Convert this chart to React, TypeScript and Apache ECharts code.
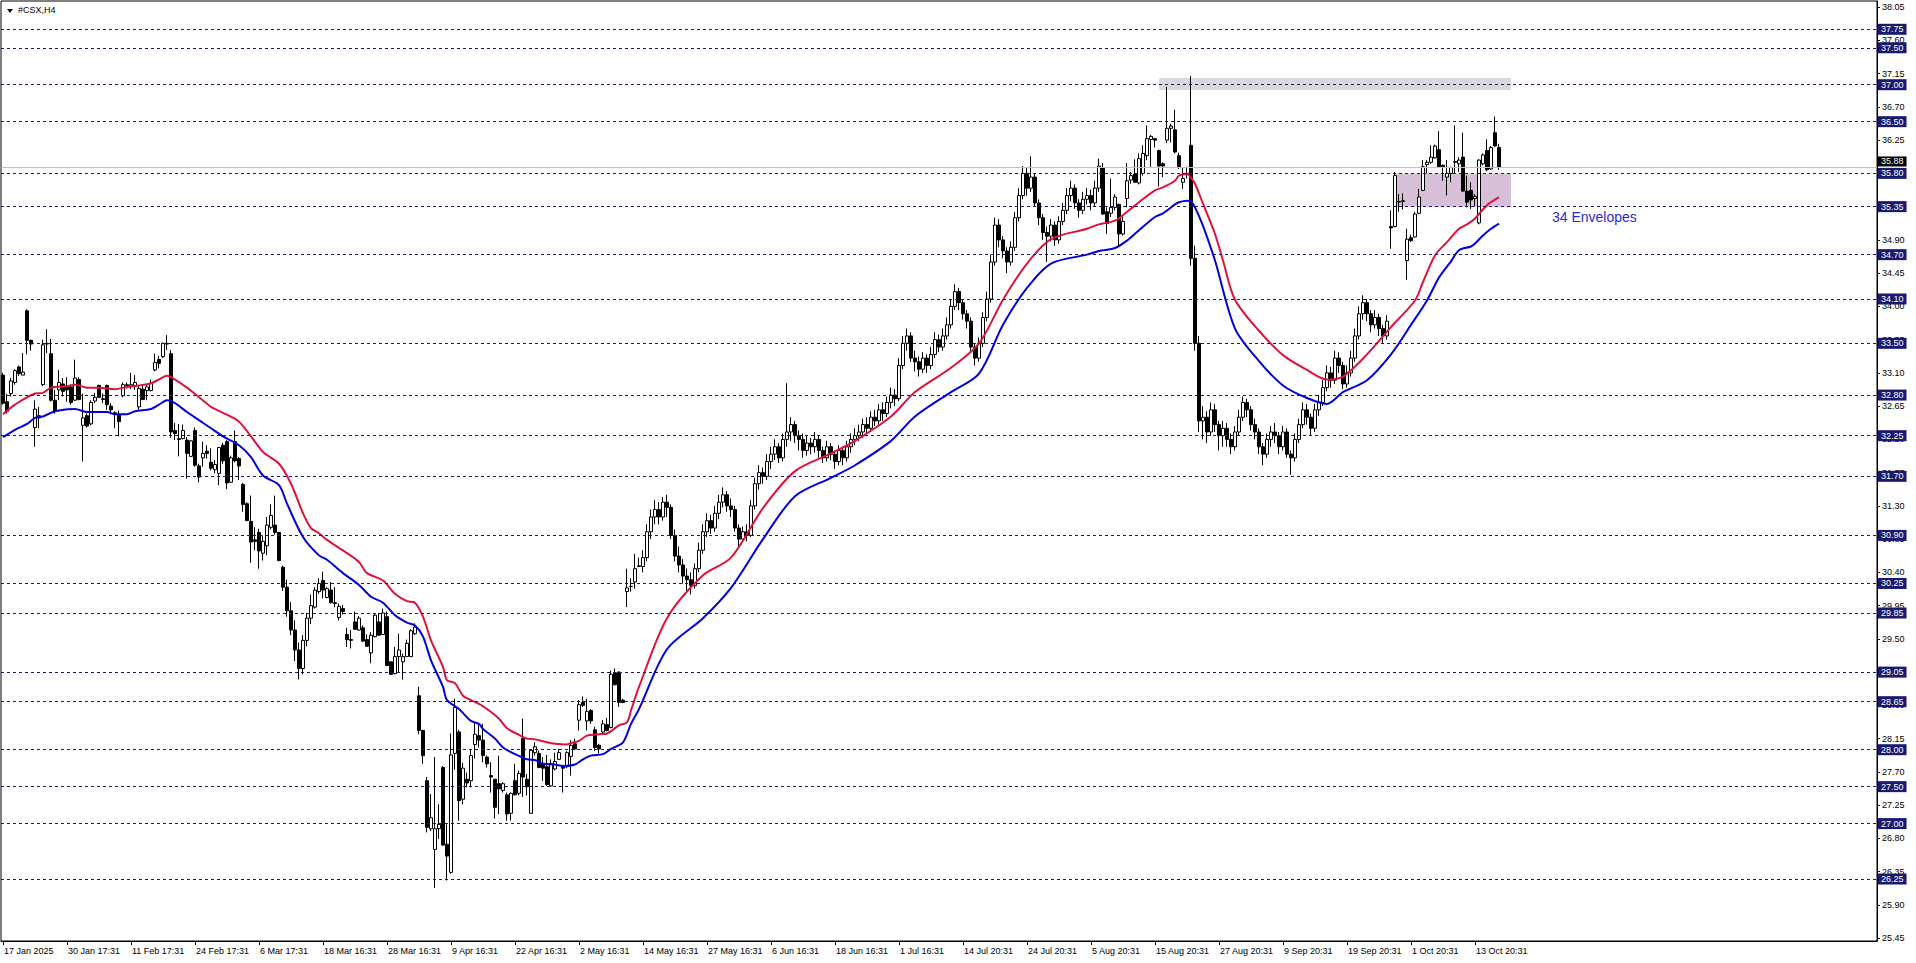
import React, { useEffect, useRef } from "react";
import * as echarts from "echarts";

// ---------- data ----------
const TOTAL_SLOTS = 469; // bar slots across the plot (4 px each)

const timeLabels = [
  "17 Jan 2025", "30 Jan 17:31", "11 Feb 17:31", "24 Feb 17:31", "6 Mar 17:31",
  "18 Mar 16:31", "28 Mar 16:31", "9 Apr 16:31", "22 Apr 16:31", "2 May 16:31",
  "14 May 16:31", "27 May 16:31", "6 Jun 16:31", "18 Jun 16:31", "1 Jul 16:31",
  "14 Jul 20:31", "24 Jul 20:31", "5 Aug 20:31", "15 Aug 20:31", "27 Aug 20:31",
  "9 Sep 20:31", "19 Sep 20:31", "1 Oct 20:31", "13 Oct 20:31",
];
const BARS_PER_LABEL = 16;

const priceTicks = [
  25.45, 25.9, 26.35, 26.8, 27.25, 27.7, 28.15, 28.6, 29.05, 29.5, 29.95, 30.4,
  30.85, 31.3, 31.75, 32.2, 32.65, 33.1, 33.55, 34.0, 34.45, 34.9, 35.35, 35.8,
  36.25, 36.7, 37.15, 37.6, 38.05,
];

const levels = [
  37.75, 37.5, 37.0, 36.5, 35.8, 35.35, 34.7, 34.1, 33.5, 32.8, 32.25, 31.7,
  30.9, 30.25, 29.85, 29.05, 28.65, 28.0, 27.5, 27.0, 26.25,
];
const lastPrice = 35.88;

// zones: [fromBar, toBar, top, bottom]
const resistanceZone = [289, 377, 37.09, 36.93];
const supportZone = [348, 377, 35.8, 35.35];

// candles: [open, close, low, high]
const candlesJanFeb = [
  [33.07, 32.69, 32.67, 33.1], [32.71, 32.58, 32.55, 32.82], [32.82, 32.99, 32.78, 33.03],
  [32.97, 33.13, 32.94, 33.15], [33.18, 33.09, 33.06, 33.2], [33.07, 33.11, 33.07, 33.37],
  [33.94, 33.54, 33.35, 33.96], [33.54, 33.49, 33.4, 33.55], [32.36, 32.61, 32.1, 32.73],
  [32.49, 32.52, 32.35, 32.64], [32.94, 33.48, 32.92, 33.55], [33.49, 33.5, 33.37, 33.69],
  [33.36, 32.73, 32.71, 33.56], [32.73, 32.58, 32.55, 32.87], [32.87, 32.97, 32.73, 33.14],
  [32.95, 32.85, 32.78, 33.03], [32.92, 32.87, 32.71, 33.04], [32.91, 32.7, 32.67, 32.94],
  [32.73, 33.03, 32.72, 33.28], [33.01, 32.74, 32.73, 33.04], [32.39, 32.49, 31.9, 32.82],
  [32.52, 32.38, 32.36, 32.55], [32.41, 32.7, 32.39, 32.73], [32.72, 32.77, 32.69, 32.83],
  [32.93, 32.77, 32.76, 32.94], [32.75, 32.74, 32.69, 32.82], [32.93, 32.67, 32.6, 32.94],
  [32.65, 32.6, 32.54, 32.69], [32.56, 32.54, 32.35, 32.58], [32.54, 32.44, 32.24, 32.59],
  [32.79, 32.94, 32.77, 32.97], [32.93, 32.94, 32.89, 32.97], [32.92, 32.94, 32.88, 33.1],
  [32.92, 32.97, 32.87, 33.07], [32.64, 32.89, 32.6, 32.92], [32.88, 32.74, 32.73, 32.92],
  [32.86, 32.91, 32.73, 32.94], [32.86, 32.96, 32.85, 33.01], [33.14, 33.24, 33.12, 33.36],
  [33.28, 33.23, 33.16, 33.33],
];
const candlesFebMar = [
  [33.32, 33.5, 33.3, 33.51], [33.49, 33.5, 33.41, 33.61], [33.36, 32.3, 32.22, 33.41],
  [32.32, 32.28, 32.19, 32.42], [32.21, 32.2, 31.97, 32.41], [32.21, 32.32, 32.2, 32.4],
  [32.19, 32.01, 31.67, 32.23], [31.97, 32.18, 31.96, 32.19], [32.32, 31.85, 31.83, 32.36],
  [31.84, 31.69, 31.62, 31.87], [31.95, 32.01, 31.83, 32.17], [32.04, 32.01, 31.94, 32.12],
  [31.89, 31.81, 31.78, 32.08], [31.79, 31.86, 31.74, 31.92], [31.74, 32.09, 31.58, 32.1],
  [32.12, 31.91, 31.87, 32.15], [32.17, 31.61, 31.53, 32.19], [31.62, 31.95, 31.61, 31.98],
  [32.17, 31.91, 31.89, 32.32], [31.94, 31.84, 31.65, 31.96], [31.59, 31.32, 31.22, 31.61],
  [31.33, 31.1, 31.1, 31.35], [31.09, 30.81, 30.53, 31.44], [30.84, 30.82, 30.7, 31.01],
  [30.94, 30.69, 30.45, 30.99], [30.66, 30.82, 30.56, 30.9], [30.76, 31.04, 30.63, 31.15],
  [31.01, 31.17, 30.98, 31.32], [31.04, 30.94, 30.91, 31.44], [30.94, 30.56, 30.55, 30.95],
  [30.47, 30.2, 30.15, 30.49], [30.2, 29.88, 29.8, 30.3], [29.88, 29.62, 29.55, 30.0],
  [29.62, 29.35, 29.2, 29.75], [29.35, 29.1, 28.95, 29.45], [29.1, 29.48, 29.02, 29.55],
  [29.48, 29.78, 29.4, 29.85], [29.78, 29.95, 29.7, 30.1],
];
const candlesMarApr = [
  [29.93, 30.16, 29.91, 30.2], [30.14, 30.25, 30.11, 30.32], [30.29, 30.16, 30.05, 30.41],
  [30.06, 30.18, 30.05, 30.2], [30.16, 29.99, 29.98, 30.27], [29.99, 29.98, 29.93, 30.2],
  [29.79, 29.94, 29.75, 29.98], [29.91, 29.87, 29.83, 29.96], [29.56, 29.49, 29.39, 29.65],
  [29.49, 29.48, 29.37, 29.62], [29.73, 29.63, 29.62, 29.87], [29.62, 29.78, 29.61, 29.81],
  [29.65, 29.47, 29.46, 29.68], [29.49, 29.4, 29.39, 29.56], [29.31, 29.55, 29.17, 29.59],
  [29.53, 29.82, 29.52, 29.84], [29.73, 29.55, 29.54, 29.85], [29.56, 29.85, 29.55, 29.91],
  [29.8, 29.14, 29.13, 29.87], [29.19, 29.02, 29.01, 29.19], [29.03, 29.26, 29.02, 29.39],
  [29.26, 29.35, 29.05, 29.57], [29.19, 29.26, 28.95, 29.3], [29.26, 29.44, 29.26, 29.49],
  [29.26, 29.61, 29.26, 29.63], [29.57, 29.66, 29.55, 29.71], [28.73, 28.26, 28.21, 28.85],
  [28.26, 27.92, 27.81, 28.27], [27.58, 26.95, 26.88, 27.63], [26.93, 27.08, 26.9, 27.4],
  [26.65, 26.93, 26.13, 27.9], [26.93, 26.99, 26.79, 27.26], [27.76, 26.71, 26.7, 27.78],
  [26.72, 26.56, 26.23, 26.99], [26.34, 27.93, 26.32, 28.22], [27.95, 28.57, 27.73, 28.69],
  [28.24, 27.31, 27.04, 28.27], [27.33, 27.75, 27.26, 27.82], [27.6, 27.55, 27.49, 27.69],
  [27.58, 27.92, 27.49, 28.0], [28.07, 28.21, 27.88, 28.36], [28.19, 28.13, 28.03, 28.35],
];
const candlesAprMay = [
  [28.13, 27.92, 27.83, 28.35], [27.9, 27.81, 27.76, 27.92], [27.65, 27.63, 27.42, 27.83],
  [27.6, 27.22, 27.07, 27.6], [27.54, 27.47, 27.13, 27.92], [27.45, 27.54, 27.42, 27.56],
  [27.39, 27.13, 27.04, 27.42], [27.14, 27.41, 27.04, 27.42], [27.58, 27.39, 27.38, 27.81],
  [27.41, 27.68, 27.38, 27.72], [28.15, 27.63, 27.36, 28.42], [27.6, 27.5, 27.38, 27.67],
  [27.14, 27.99, 27.13, 28.0], [27.96, 28.04, 27.92, 28.1], [27.95, 27.76, 27.75, 27.99],
  [27.8, 27.75, 27.58, 27.9], [27.77, 27.53, 27.51, 27.93], [27.51, 27.81, 27.5, 27.87],
  [27.74, 27.84, 27.72, 27.96], [27.87, 27.96, 27.86, 28.01], [27.77, 27.75, 27.42, 27.78],
  [27.77, 27.96, 27.75, 27.98], [27.91, 28.06, 27.65, 28.13], [28.08, 28.01, 28.0, 28.15],
  [28.4, 28.61, 28.26, 28.67], [28.64, 28.6, 28.58, 28.72], [28.39, 28.52, 28.26, 28.69],
  [28.53, 28.39, 28.35, 28.55], [28.27, 28.03, 27.98, 28.31], [28.06, 28.01, 27.95, 28.08],
  [28.24, 28.35, 28.21, 28.4], [28.34, 28.26, 28.25, 28.43], [28.3, 29.02, 28.29, 29.07],
  [29.04, 28.88, 28.87, 29.1], [29.05, 28.64, 28.58, 29.06], [28.67, 28.64, 28.63, 28.69],
  [30.14, 30.19, 29.93, 30.45], [30.21, 30.21, 30.14, 30.32], [30.27, 30.45, 30.18, 30.65],
  [30.48, 30.49, 30.47, 30.6],
];
const candlesMayJul = [
  [30.48, 30.6, 30.4, 30.7], [30.6, 30.95, 30.55, 31.05], [30.95, 31.15, 30.85, 31.25],
  [31.15, 31.25, 31.05, 31.38], [31.25, 31.15, 31.05, 31.35], [31.15, 31.35, 31.1, 31.42],
  [31.35, 31.28, 31.15, 31.45], [31.28, 30.9, 30.85, 31.32], [30.9, 30.62, 30.55, 30.98],
  [30.62, 30.5, 30.4, 30.75], [30.5, 30.35, 30.25, 30.58], [30.35, 30.3, 30.15, 30.45],
  [30.3, 30.22, 30.1, 30.4], [30.22, 30.45, 30.18, 30.52], [30.45, 30.7, 30.4, 30.8],
  [30.7, 30.95, 30.65, 31.05], [30.95, 31.1, 30.88, 31.2], [31.1, 31.0, 30.92, 31.18],
  [31.0, 31.2, 30.95, 31.3], [31.2, 31.35, 31.12, 31.45], [31.35, 31.45, 31.28, 31.55],
  [31.45, 31.3, 31.22, 31.5], [31.3, 31.25, 31.15, 31.4], [31.25, 31.0, 30.95, 31.3],
  [31.0, 30.85, 30.75, 31.05], [30.85, 30.95, 30.8, 31.02], [30.95, 30.9, 30.82, 31.05],
  [30.9, 31.3, 30.88, 31.38], [31.3, 31.6, 31.25, 31.68], [31.6, 31.75, 31.52, 31.85],
  [31.75, 31.7, 31.6, 31.82], [31.7, 31.9, 31.65, 32.0], [31.9, 32.0, 31.8, 32.1],
  [32.0, 32.1, 31.92, 32.2], [32.1, 31.95, 31.88, 32.15], [31.95, 32.2, 31.9, 32.28],
  [32.2, 32.3, 32.1, 32.96], [32.3, 32.4, 32.18, 32.5], [32.4, 32.25, 32.15, 32.45],
  [32.25, 32.2, 32.05, 32.32], [32.2, 32.05, 31.95, 32.28], [32.05, 32.15, 31.98, 32.25],
  [32.15, 32.1, 32.0, 32.22], [32.1, 32.2, 32.02, 32.3], [32.2, 32.05, 31.95, 32.25],
  [32.05, 31.95, 31.88, 32.1], [31.95, 32.1, 31.9, 32.18], [32.1, 32.0, 31.92, 32.15],
  [32.0, 31.9, 31.8, 32.05], [31.9, 32.05, 31.85, 32.12], [32.05, 31.95, 31.85, 32.1],
  [31.95, 32.1, 31.9, 32.18], [32.1, 32.2, 32.02, 32.28], [32.2, 32.25, 32.12, 32.35],
  [32.25, 32.3, 32.18, 32.4], [32.3, 32.4, 32.22, 32.48], [32.4, 32.35, 32.28, 32.5],
  [32.35, 32.5, 32.3, 32.58], [32.5, 32.45, 32.38, 32.6], [32.45, 32.6, 32.4, 32.68],
  [32.6, 32.55, 32.45, 32.7], [32.55, 32.7, 32.5, 32.78], [32.7, 32.8, 32.62, 32.9],
  [32.8, 32.75, 32.65, 32.88], [32.75, 33.2, 32.72, 33.3],
];
const candlesJulAug = [
  [33.2, 33.5, 33.15, 33.6], [33.5, 33.6, 33.4, 33.7], [33.6, 33.3, 33.25, 33.65],
  [33.3, 33.25, 33.12, 33.4], [33.25, 33.15, 33.05, 33.32], [33.15, 33.3, 33.1, 33.38],
  [33.3, 33.2, 33.1, 33.35], [33.2, 33.35, 33.15, 33.45], [33.35, 33.55, 33.3, 33.65],
  [33.55, 33.45, 33.38, 33.62], [33.45, 33.6, 33.4, 33.7], [33.6, 33.75, 33.55, 33.85],
  [33.75, 34.0, 33.7, 34.1], [34.0, 34.2, 33.95, 34.3], [34.2, 34.05, 33.95, 34.25],
  [34.05, 33.9, 33.82, 34.1], [33.9, 33.8, 33.7, 33.95], [33.8, 33.45, 33.4, 33.85],
  [33.45, 33.3, 33.2, 33.5], [33.3, 33.5, 33.25, 33.58], [33.5, 33.85, 33.45, 33.92],
  [33.85, 34.1, 33.8, 34.2], [34.1, 34.6, 34.05, 34.7], [34.6, 35.1, 34.55, 35.2],
  [35.1, 34.9, 34.8, 35.18], [34.9, 34.75, 34.65, 34.95], [34.75, 34.6, 34.45, 34.8],
  [34.6, 34.8, 34.55, 34.88], [34.8, 35.2, 34.75, 35.28], [35.2, 35.5, 35.15, 35.6],
  [35.5, 35.8, 35.45, 35.9], [35.8, 35.6, 35.5, 35.88], [35.6, 35.75, 35.55, 36.03],
  [35.75, 35.4, 35.35, 35.8], [35.4, 35.2, 35.1, 35.45], [35.2, 35.0, 34.9, 35.25],
  [35.0, 34.95, 34.6, 35.08], [34.95, 35.1, 34.88, 35.18], [35.1, 34.9, 34.82, 35.15],
  [34.9, 35.15, 34.85, 35.22], [35.15, 35.3, 35.1, 35.4], [35.3, 35.5, 35.25, 35.6],
  [35.5, 35.6, 35.42, 35.7], [35.6, 35.4, 35.32, 35.65], [35.4, 35.3, 35.2, 35.45],
  [35.3, 35.45, 35.25, 35.55], [35.45, 35.5, 35.38, 35.6], [35.5, 35.4, 35.3, 35.58],
  [35.4, 35.6, 35.35, 35.7], [35.6, 35.9, 35.55, 36.0],
  [35.88, 35.25, 35.24, 35.94], [35.28, 35.12, 34.98, 35.34], [35.26, 35.34, 35.21, 35.73],
  [35.34, 35.48, 35.3, 35.52], [35.38, 34.98, 34.82, 35.39], [34.98, 35.15, 34.96, 35.21],
  [35.46, 35.7, 35.34, 35.94], [35.71, 35.77, 35.66, 35.82], [35.79, 35.68, 35.67, 35.99],
  [35.67, 36.0, 35.65, 36.07], [35.8, 36.07, 35.77, 36.18], [36.04, 36.27, 35.98, 36.45],
  [36.26, 36.3, 35.89, 36.32], [36.27, 36.25, 36.15, 36.28], [36.11, 35.9, 35.62, 36.12],
  [35.93, 35.9, 35.75, 35.95], [36.25, 36.41, 36.21, 36.97], [36.41, 36.44, 36.22, 36.47],
  [36.39, 36.09, 36.07, 36.66], [36.04, 35.89, 35.86, 36.08], [35.68, 35.73, 35.59, 35.88],
  [35.79, 35.8, 35.73, 35.89],
];
const candlesAugSep = [
  [36.18, 34.65, 34.55, 37.12], [34.65, 33.5, 33.4, 34.82], [33.5, 32.45, 32.3, 33.6],
  [32.45, 32.5, 32.2, 32.65], [32.5, 32.3, 32.15, 32.58], [32.3, 32.6, 32.25, 32.7],
  [32.6, 32.4, 32.3, 32.68], [32.4, 32.25, 32.05, 32.45], [32.25, 32.35, 32.1, 32.45],
  [32.35, 32.2, 32.1, 32.42], [32.2, 32.1, 32.0, 32.28], [32.1, 32.3, 32.05, 32.38],
  [32.3, 32.5, 32.25, 32.6], [32.5, 32.7, 32.45, 32.78], [32.7, 32.6, 32.5, 32.75],
  [32.6, 32.4, 32.32, 32.65], [32.4, 32.3, 32.2, 32.48], [32.3, 32.1, 32.0, 32.35],
  [32.1, 32.0, 31.85, 32.15], [32.0, 32.2, 31.95, 32.28], [32.2, 32.3, 32.1, 32.38],
  [32.3, 32.25, 32.15, 32.42], [32.25, 32.1, 32.0, 32.3], [32.1, 32.3, 32.05, 32.38],
  [32.3, 32.0, 31.95, 32.35], [32.0, 31.95, 31.72, 32.05], [31.95, 32.2, 31.9, 32.28],
  [32.2, 32.4, 32.15, 32.48], [32.4, 32.6, 32.35, 32.7], [32.6, 32.5, 32.4, 32.68],
  [32.5, 32.35, 32.25, 32.55], [32.35, 32.6, 32.3, 32.68], [32.6, 32.7, 32.52, 32.8],
  [32.7, 32.9, 32.65, 33.0], [32.9, 33.1, 32.85, 33.2], [33.1, 33.0, 32.9, 33.18],
  [33.0, 33.3, 32.95, 33.4], [33.3, 33.2, 33.1, 33.38], [33.2, 32.95, 32.88, 33.25],
  [32.95, 33.1, 32.9, 33.2], [33.1, 33.3, 33.05, 33.4], [33.3, 33.6, 33.25, 33.7],
  [33.6, 33.9, 33.55, 34.0], [33.9, 34.05, 33.82, 34.15], [34.05, 33.9, 33.8, 34.1],
  [33.9, 33.75, 33.65, 33.95], [33.75, 33.85, 33.7, 33.95], [33.85, 33.7, 33.6, 33.9],
  [33.7, 33.6, 33.5, 33.75], [33.6, 33.8, 33.55, 33.88],
];
const candlesSepOct = [
  [35.08, 35.06, 34.78, 35.3], [35.08, 35.77, 35.07, 35.82], [35.41, 35.42, 35.28, 35.52],
  [35.42, 35.43, 35.31, 35.53], [34.62, 34.91, 34.36, 35.05], [34.93, 34.89, 34.87, 34.97],
  [34.94, 35.25, 34.93, 35.28], [35.26, 35.48, 35.25, 35.59], [35.57, 35.89, 35.56, 35.98],
  [35.92, 35.95, 35.8, 35.98], [35.95, 36.02, 35.93, 36.18], [36.01, 36.17, 36.0, 36.19],
  [36.12, 35.89, 35.89, 36.37], [35.91, 35.89, 35.7, 35.92], [35.75, 35.8, 35.5, 35.98],
  [35.8, 35.88, 35.68, 35.89], [35.95, 35.96, 35.8, 36.45], [35.93, 35.98, 35.82, 36.02],
  [36.02, 35.56, 35.55, 36.35], [35.56, 35.41, 35.34, 35.77], [35.57, 35.44, 35.32, 35.68],
  [35.46, 35.49, 35.35, 35.52], [35.13, 35.98, 35.11, 35.99], [35.93, 36.05, 35.91, 36.07],
  [36.11, 35.85, 35.83, 36.26], [35.86, 36.15, 35.85, 36.17], [36.35, 36.17, 36.16, 36.57],
  [36.15, 35.88, 35.85, 36.2],
];

// envelope lines: [barIndex, price]
const upperEnvelope = [
  [0, 32.54], [3, 32.67], [8, 32.82], [10, 32.83], [12, 32.9], [16, 32.92], [18, 32.94],
  [21, 32.9], [24, 32.9], [28, 32.88], [31, 32.91], [34, 32.93], [37, 32.96], [39, 33.01],
  [41, 33.06], [43, 33.01], [46, 32.9], [49, 32.77], [52, 32.64], [55, 32.56], [59, 32.44],
  [62, 32.24], [65, 32.03], [69, 31.87], [72, 31.6], [75, 31.2], [77, 31.0], [79, 30.93],
  [81, 30.84], [86, 30.66], [89, 30.54], [91, 30.39], [95, 30.29], [98, 30.11], [101, 30.01],
  [103, 29.99], [105, 29.8], [107, 29.48], [110, 29.12], [111, 28.94], [113, 28.9],
  [115, 28.73], [117, 28.67], [119, 28.62], [121, 28.55], [124, 28.42], [126, 28.29],
  [129, 28.2], [131, 28.15], [133, 28.14], [136, 28.1], [138, 28.08], [141, 28.07],
  [142, 28.09], [144, 28.12], [146, 28.19], [149, 28.21], [151, 28.22], [154, 28.33],
  [156, 28.37], [157, 28.53], [159, 28.85], [166, 29.78], [175, 30.36], [182, 30.6],
  [190, 31.27], [198, 31.77], [207, 32.01], [213, 32.18], [222, 32.51], [228, 32.84],
  [237, 33.17], [244, 33.5], [250, 34.09], [256, 34.58], [262, 34.91], [271, 35.05],
  [274, 35.11], [278, 35.16], [281, 35.28], [284, 35.41], [288, 35.57], [290, 35.61],
  [293, 35.7], [294, 35.77], [296, 35.79], [297, 35.74], [298, 35.66], [300, 35.39],
  [303, 34.98], [305, 34.62], [308, 34.09], [314, 33.67], [320, 33.34], [326, 33.14],
  [331, 33.01], [335, 33.05], [341, 33.35], [347, 33.72], [353, 34.08], [355, 34.33],
  [358, 34.69], [361, 34.87], [364, 35.05], [366, 35.11], [368, 35.19], [371, 35.37],
  [374, 35.48],
];
const lowerEnvelope = [
  [0, 32.23], [3, 32.33], [6, 32.41], [8, 32.49], [10, 32.51], [12, 32.56], [14, 32.59],
  [18, 32.61], [21, 32.57], [26, 32.57], [28, 32.54], [31, 32.54], [33, 32.58], [37, 32.61],
  [39, 32.67], [41, 32.73], [43, 32.69], [46, 32.57], [49, 32.46], [52, 32.35], [55, 32.24],
  [59, 32.12], [62, 31.96], [65, 31.71], [69, 31.58], [71, 31.33], [75, 30.88], [79, 30.63],
  [81, 30.57], [85, 30.39], [89, 30.23], [92, 30.07], [95, 29.99], [98, 29.82], [101, 29.72],
  [103, 29.68], [105, 29.53], [107, 29.21], [110, 28.85], [111, 28.67], [114, 28.55],
  [117, 28.39], [119, 28.35], [120, 28.28], [123, 28.15], [125, 28.03], [128, 27.94],
  [131, 27.87], [133, 27.86], [135, 27.81], [138, 27.8], [140, 27.78], [143, 27.8],
  [145, 27.87], [147, 27.92], [150, 27.94], [152, 28.01], [155, 28.1], [157, 28.35],
  [159, 28.55], [166, 29.36], [175, 29.78], [182, 30.19], [190, 30.85], [198, 31.43],
  [207, 31.68], [213, 31.85], [222, 32.18], [228, 32.51], [237, 32.84], [244, 33.09],
  [250, 33.75], [256, 34.25], [262, 34.58], [271, 34.7], [274, 34.75], [278, 34.79],
  [281, 34.89], [284, 35.03], [288, 35.21], [290, 35.26], [293, 35.38], [294, 35.41],
  [296, 35.43], [297, 35.42], [298, 35.34], [300, 35.09], [303, 34.62], [308, 33.7],
  [314, 33.26], [320, 32.93], [326, 32.76], [331, 32.68], [335, 32.84], [341, 33.0],
  [347, 33.35], [352, 33.75], [356, 34.08], [359, 34.39], [362, 34.61], [364, 34.76],
  [367, 34.81], [368, 34.85], [370, 34.96], [372, 35.05], [374, 35.12],
];

// ---------- styles ----------
const FONT = "Liberation Sans";
const NAVY = "#191970";

export default function App() {
  const ref = useRef<HTMLDivElement>(null);

  useEffect(() => {
    if (!ref.current) return;
    const chart = echarts.init(ref.current, null, { renderer: "svg" });

    const candles = [
      ...candlesJanFeb, ...candlesFebMar, ...candlesMarApr, ...candlesAprMay,
      ...candlesMayJul, ...candlesJulAug, ...candlesAugSep, ...candlesSepOct,
    ];
    const categories = Array.from({ length: TOTAL_SLOTS }, (_, i) => String(i));
    const lastLabelBar = (timeLabels.length - 1) * BARS_PER_LABEL;
    const showTick = (i: number) => i % BARS_PER_LABEL === 0 && i <= lastLabelBar;

    const option: any = {
      animation: false,
      backgroundColor: "#ffffff",
      textStyle: { fontFamily: FONT },
      grid: {
        left: 1, right: 39, top: 1, bottom: 22,
        show: true, borderColor: "#000", borderWidth: 1, backgroundColor: "#fff",
      },
      xAxis: {
        type: "category",
        data: categories,
        boundaryGap: true,
        axisLine: { show: true, lineStyle: { color: "#000", width: 1 } },
        axisTick: {
          show: true, alignWithLabel: true, length: 4,
          interval: (i: number) => showTick(i),
          lineStyle: { color: "#000" },
        },
        axisLabel: {
          interval: (i: number) => showTick(i),
          formatter: (v: string) => timeLabels[Number(v) / BARS_PER_LABEL] || "",
          align: "left", margin: 5, padding: [0, 0, 0, 1],
          fontSize: 9, color: "#000", fontFamily: FONT,
        },
        splitLine: { show: false },
      },
      yAxis: {
        type: "value",
        position: "right",
        min: 25.411,
        max: 38.133,
        scale: true,
        splitLine: { show: false },
        axisLine: { show: true, lineStyle: { color: "#000", width: 1 } },
        axisTick: {
          show: true, length: 3, customValues: priceTicks,
          lineStyle: { color: "#000" },
        },
        axisLabel: {
          customValues: priceTicks,
          formatter: (v: number) => v.toFixed(2),
          fontSize: 9, color: "#000", fontFamily: FONT, margin: 5,
        },
      },
      graphic: [
        {
          type: "polygon", silent: true,
          shape: { points: [[7, 9], [13, 9], [10, 13]] },
          style: { fill: "#000" },
        },
        {
          type: "text", left: 18, top: 5, silent: true,
          style: { text: "#CSX,H4", fill: "#000", font: `9px "${FONT}"` },
        },
        {
          type: "text", left: 1552, top: 210, silent: true,
          style: { text: "34 Envelopes", fill: "#2a2ad6", font: `14px "${FONT}"` },
        },
      ],
      series: [
        {
          name: "zones",
          type: "line",
          data: [],
          z: 1,
          silent: true,
          markArea: {
            silent: true,
            data: [
              [
                { xAxis: String(resistanceZone[0]), yAxis: resistanceZone[2], itemStyle: { color: "#d9d9d9" } },
                { xAxis: String(resistanceZone[1]), yAxis: resistanceZone[3] },
              ],
              [
                { xAxis: String(supportZone[0]), yAxis: supportZone[2], itemStyle: { color: "#d8bfd8" } },
                { xAxis: String(supportZone[1]), yAxis: supportZone[3] },
              ],
            ],
          },
        },
        {
          name: "last",
          type: "line",
          data: [],
          z: 2,
          silent: true,
          markLine: {
            silent: true,
            symbol: ["none", "none"],
            lineStyle: { color: "#c0c0c0", type: "solid", width: 1 },
            label: {
              show: true, position: "end", distance: 1,
              offset: [0, -6],
              formatter: () => lastPrice.toFixed(2),
              color: "#fff", backgroundColor: "#000",
              fontSize: 9, fontFamily: FONT, padding: [1, 3, 0, 3],
            },
            data: [{ yAxis: lastPrice }],
          },
        },
        {
          name: "levels",
          type: "line",
          data: [],
          z: 2,
          silent: true,
          markLine: {
            silent: true,
            symbol: ["none", "none"],
            lineStyle: { color: NAVY, type: [3, 3], width: 1 },
            label: {
              show: true, position: "end", distance: 1,
              formatter: (p: any) => Number(p.value).toFixed(2),
              color: "#fff", backgroundColor: NAVY,
              fontSize: 9, fontFamily: FONT, padding: [1, 3, 1, 3],
            },
            data: levels.map((v) => ({ yAxis: v })),
          },
        },
        {
          name: "#CSX,H4",
          type: "candlestick",
          data: candles,
          barWidth: 3,
          z: 3,
          itemStyle: {
            color: "#ffffff", color0: "#000000",
            borderColor: "#000000", borderColor0: "#000000", borderWidth: 1,
          },
        },
        {
          name: "Envelope upper",
          type: "line",
          data: upperEnvelope,
          showSymbol: false,
          smooth: 0.3,
          z: 4,
          lineStyle: { color: "#dc143c", width: 2 },
        },
        {
          name: "Envelope lower",
          type: "line",
          data: lowerEnvelope,
          showSymbol: false,
          smooth: 0.3,
          z: 4,
          lineStyle: { color: "#0000dd", width: 2 },
        },
      ],
    };

    chart.setOption(option);
    return () => chart.dispose();
  }, []);

  return (
    <div
      ref={ref}
      style={{ position: "absolute", left: 0, top: 0, width: 1916, height: 963, background: "#fff" }}
    />
  );
}
